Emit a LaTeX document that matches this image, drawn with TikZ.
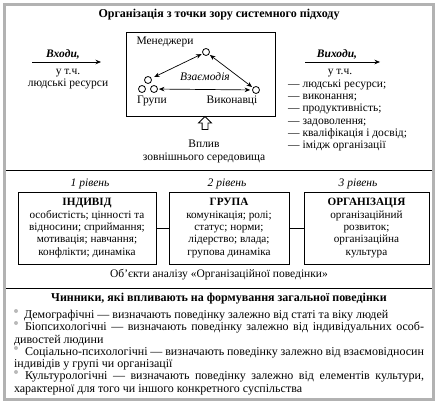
\documentclass[tikz,border=0pt]{standalone}
\usepackage{fontspec}
\setmainfont{Liberation Serif}
\usetikzlibrary{positioning, arrows.meta, shapes.arrows}

\begin{document}
\begin{tikzpicture}[
  x=1pt, y=-1pt,
  >={Stealth[length=5.5pt, width=4.5pt]},
  every node/.style={font=\fontsize{11.5}{12.3}\selectfont, inner sep=0pt},
  person/.style={draw, circle, minimum size=7pt, line width=0.8pt},
  levelbox/.style={draw, line width=0.9pt, align=center, minimum height=72pt,
    font=\fontsize{11.2}{12.3}\selectfont},
  level/.style={font=\fontsize{11.5}{12.3}\selectfont\itshape},
  heading/.style={font=\fontsize{12}{13}\selectfont\bfseries},
  dot/.style={circle, fill=gray!55, minimum size=4pt}
]
  \useasboundingbox (0,0) rectangle (438,403);
  \draw[gray!60, line width=3pt] (4.5,5) rectangle (433.5,399);
  \draw[line width=0.9pt] (6,170) -- (432,170) (6,288) -- (432,288);

  \node[heading] (title) at (219,15) {Організація з точки зору системного підходу};
  \node[draw, line width=0.9pt, minimum width=149pt, minimum height=84pt] (system) at (200.5,74) {};

  \node[person] (man) at (206,52) {};
  \node[person] (grA) at (148,80) {};
  \node[person] (grB) at (142,89) {};
  \node[person] (grC) at (154,89) {};
  \node[person] (vyk) at (256,90) {};
  \node (manL) at (165,42) {Менеджери};
  \node (grL) at (152,101) {Групи};
  \node (vykL) at (232,101) {Виконавці};
  \node[level] (vzaem) at (205,77) {Взаємодія};

  \path[<->, line width=0.7pt]
    (man) edge[shorten <=1pt, shorten >=3pt] (grA)
    (man) edge[shorten <=1pt, shorten >=1pt] (vyk)
    (grC) edge[shorten <=1pt, shorten >=2pt] (vyk);

  \node[font=\fontsize{11.5}{12.3}\selectfont\bfseries\itshape] (vhody) at (63,54) {Входи,};
  \coordinate (inA) at (32,62);
  \coordinate (inB) at (101,62);
  \draw[->, line width=0.7pt] (inA) -- (inB);
  \node[align=center] (vhodyT) at (68,79) {у т.ч.\\людські ресурси};

  \node[font=\fontsize{11.5}{12.3}\selectfont\bfseries\itshape] (vyhody) at (337,54) {Виходи,};
  \coordinate (outA) at (305,62);
  \coordinate (outB) at (380,62);
  \draw[->, line width=0.7pt] (outA) -- (outB);
  \node (vyhodyT) at (340,73) {у т.ч.};
  \node[align=left, anchor=west] (vyhodyL) at (288,115.5)
    {— людські ресурси;\\— виконання;\\— продуктивність;\\— задоволення;\\— кваліфікація і досвід;\\— імідж організації};

  \node[draw, line width=0.8pt, single arrow, shape border rotate=90, inner sep=2.5pt,
        single arrow head extend=3.5pt, minimum height=13pt] (vplyvArrow) at (205,124.5) {};
  \node[align=center] (vplyv) at (204,151.5) {Вплив\\зовнішнього середовища};

  \node[levelbox, minimum width=138pt] (ind) at (87,228)
    {\textbf{ІНДИВІД}\\особистість; цінності та\\відносини; сприймання;\\мотивація; навчання;\\конфлікти; динаміка};
  \node[levelbox, minimum width=120pt] (grp) at (229,228)
    {\textbf{ГРУПА}\\комунікація; ролі;\\статус; норми;\\лідерство; влада;\\групова динаміка};
  \node[levelbox, minimum width=125pt] (org) at (366.5,228)
    {\textbf{ОРГАНІЗАЦІЯ}\\організаційний\\розвиток;\\організаційна\\культура};
  \node[level] (lev1) at (90,184) {1 рівень};
  \node[level] (lev2) at (227,184) {2 рівень};
  \node[level] (lev3) at (358,184) {3 рівень};
  \draw[line width=0.9pt] (ind) -- (grp);
  \draw[line width=0.9pt] (grp) -- (org);
  \node (objekty) at (219,275) {Об’єкти аналізу «Організаційної поведінки»};

  \node[heading] (chynnyky) at (219,299) {Чинники, які впливають на формування загальної поведінки};
  \node[text width=410pt, align=justify, font=\fontsize{12}{12.3}\selectfont] (factors) at (219,352.5)
    {\hspace*{10pt}Демографічні — визначають поведінку залежно від статі та віку людей\par
     \hspace*{11pt}Біопсихологічні — визначають поведінку залежно від індивідуальних особ-\linebreak дивостей людини\par
     \hspace*{11pt}Соціально-психологічні — визначають поведінку залежно від взаємовідносин\linebreak індивідів у групі чи організації\par
     \hspace*{11pt}Культурологічні — визначають поведінку залежно від елементів культури,\linebreak характерної для того чи іншого конкретного суспільства};
  \node[dot] (b1) at (16,311) {};
  \node[dot] (b2) at (16,323) {};
  \node[dot] (b3) at (16,348) {};
  \node[dot] (b4) at (16,372) {};
\end{tikzpicture}
\end{document}
